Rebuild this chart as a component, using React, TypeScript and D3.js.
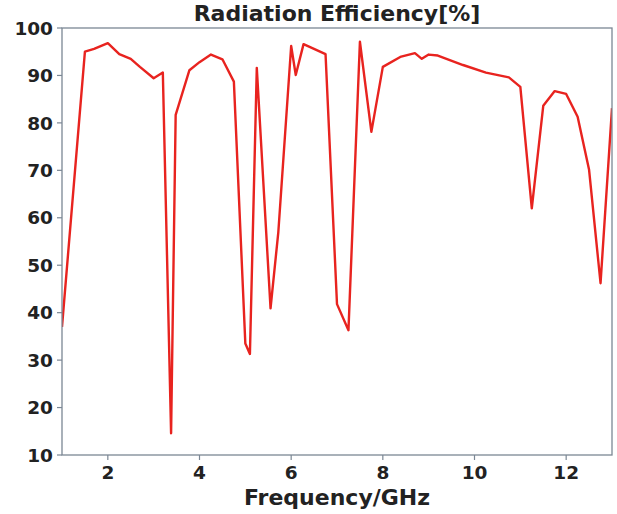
import React from "react";
import * as d3 from "d3";

const freq = [1.0, 1.5, 1.7, 2.0, 2.25, 2.5, 2.7, 3.0, 3.2, 3.38, 3.48, 3.78, 4.0, 4.25, 4.5, 4.75, 5.0, 5.1, 5.25, 5.55, 5.72, 6.0, 6.1, 6.27, 6.75, 7.0, 7.25, 7.5, 7.75, 8.0, 8.38, 8.7, 8.85, 9.0, 9.2, 9.75, 10.25, 10.75, 11.0, 11.25, 11.5, 11.75, 12.0, 12.25, 12.5, 12.75, 13.0];
const efficiency = [37, 95, 95.6, 96.8, 94.5, 93.5, 91.8, 89.4, 90.6, 14.6, 81.7, 91.1, 92.8, 94.4, 93.4, 88.7, 33.5, 31.3, 91.6, 40.9, 57, 96.2, 90.1, 96.6, 94.5, 41.8, 36.3, 97.1, 78.1, 91.8, 93.9, 94.7, 93.5, 94.4, 94.2, 92.2, 90.6, 89.6, 87.6, 62.0, 83.6, 86.7, 86.1, 81.3, 70.1, 46.2, 83.1];
const xTicks = [2, 4, 6, 8, 10, 12];
const yTicks = [10, 20, 30, 40, 50, 60, 70, 80, 90, 100];
const title = "Radiation Efficiency[%]";
const xLabel = "Frequency/GHz";

const W = 617, H = 514;
const M = { left: 62, right: 5, top: 28, bottom: 59 };

export default function App() {
  const x = d3.scaleLinear().domain([1, 13]).range([M.left, W - M.right]);
  const y = d3.scaleLinear().domain([10, 100]).range([H - M.bottom, M.top]);
  const pts = freq.map((f, i) => [f, efficiency[i]] as [number, number]);
  const line = d3.line<[number, number]>().x(d => x(d[0])).y(d => y(d[1]));
  const font = "'DejaVu Sans', sans-serif";
  const axisColor = "#7b8794";
  return (
    <svg width={W} height={H} style={{ position: "absolute", left: 0, top: 0, background: "#fff" }}>
      <text x={(x(1) + x(13)) / 2} y={21} textAnchor="middle" fontFamily={font} fontWeight="bold" fontSize={22} fill="#222">{title}</text>
      <defs>
        <clipPath id="plot"><rect x={x(1)} y={y(100)} width={x(13) - x(1)} height={y(10) - y(100)} /></clipPath>
      </defs>
      <path d={line(pts) || ""} fill="none" stroke="#e8231f" strokeWidth={2.4} strokeLinejoin="round" clipPath="url(#plot)" />
      <rect x={x(1)} y={y(100)} width={x(13) - x(1)} height={y(10) - y(100)} fill="none" stroke={axisColor} strokeWidth={1.3} />
      {yTicks.map(t => (
        <g key={"y" + t}>
          <line x1={x(1) - 5} x2={x(1)} y1={y(t)} y2={y(t)} stroke={axisColor} strokeWidth={1.2} />
          <text x={x(1) - 9} y={y(t)} dy="0.36em" textAnchor="end" fontFamily={font} fontWeight="bold" fontSize={18.5} fill="#222">{t}</text>
        </g>
      ))}
      {xTicks.map(t => (
        <g key={"x" + t}>
          <line x1={x(t)} x2={x(t)} y1={y(10)} y2={y(10) + 5} stroke={axisColor} strokeWidth={1.2} />
          <text x={x(t)} y={y(10) + 24} textAnchor="middle" fontFamily={font} fontWeight="bold" fontSize={18.5} fill="#222">{t}</text>
        </g>
      ))}
      <text x={(x(1) + x(13)) / 2} y={505} textAnchor="middle" fontFamily={font} fontWeight="bold" fontSize={22} fill="#222">{xLabel}</text>
    </svg>
  );
}
